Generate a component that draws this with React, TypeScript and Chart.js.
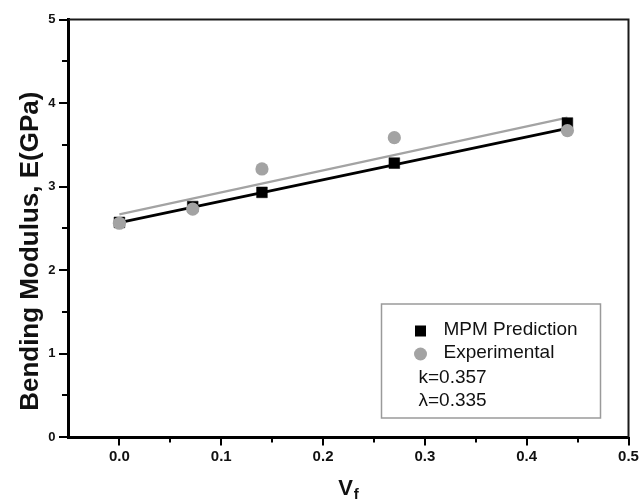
import React, { useEffect, useRef } from "react";
import { Chart, registerables } from "chart.js";

Chart.register(...registerables);

// ---- data ----
const volumeFractions = [0, 0.072, 0.14, 0.27, 0.44];
const mpmPrediction = [2.57, 2.76, 2.93, 3.28, 3.76];
const experimental = [2.56, 2.73, 3.21, 3.585, 3.67];
const mpmFitX = [0, 0.44];
const mpmFitY = [2.566, 3.697];
const expFitX = [0, 0.44];
const expFitY = [2.667, 3.824];
const xTickLabels = ["0.0", "0.1", "0.2", "0.3", "0.4", "0.5"];
const yTickLabels = ["0", "1", "2", "3", "4", "5"];
const seriesLabels = ["MPM Prediction", "Experimental"];
const annotations = ["k=0.357", "λ=0.335"];
const yAxisTitle = "Bending Modulus, E(GPa)";
const xAxisTitleMain = "V";
const xAxisTitleSub = "f";

const BLACK = "#000000";
const GREY = "#a3a3a3";
const FONT = "'Liberation Sans', Arial, Helvetica, sans-serif";

const near = (v: number, step: number) => Math.abs(v / step - Math.round(v / step)) < 1e-6;

const decorPlugin = {
  id: "decor",
  afterDraw(chart: any) {
    const { ctx, chartArea: a, scales } = chart;
    const xs = scales.x;
    const ys = scales.y;
    ctx.save();

    // top & right frame
    ctx.strokeStyle = "#1a1a1a";
    ctx.lineWidth = 2;
    ctx.beginPath();
    ctx.moveTo(a.left, a.top);
    ctx.lineTo(a.right, a.top);
    ctx.lineTo(a.right, a.bottom + 1);
    ctx.stroke();

    // tick marks
    ctx.strokeStyle = BLACK;
    ctx.lineWidth = 2;
    ctx.beginPath();
    xs.ticks.forEach((t: any) => {
      if (t.value <= xs.min + 1e-9) return;
      const px = Math.round(xs.getPixelForValue(t.value));
      const major = near(t.value, 0.1);
      ctx.moveTo(px, a.bottom);
      ctx.lineTo(px, a.bottom + (major ? 8.5 : 5.5));
    });
    ys.ticks.forEach((t: any) => {
      const py = Math.round(ys.getPixelForValue(t.value));
      const major = near(t.value, 1);
      ctx.moveTo(a.left, py);
      ctx.lineTo(a.left - (major ? 9.5 : 6.5), py);
    });
    ctx.stroke();

    // legend box
    const ds = chart.data.datasets;
    const bw = 219;
    const bh = 114;
    const bx = a.right - 28 - bw;
    const by = a.bottom - 19 - bh;
    ctx.fillStyle = "#ffffff";
    ctx.fillRect(bx, by, bw, bh);
    ctx.strokeStyle = "#9a9a9a";
    ctx.lineWidth = 1.5;
    ctx.strokeRect(bx, by, bw, bh);

    ctx.font = `19px ${FONT}`;
    ctx.textAlign = "left";
    ctx.textBaseline = "alphabetic";
    const rowBase = [31, 54, 79, 102];
    seriesLabels.forEach((label, i) => {
      const d = ds[i];
      const cx = bx + 39;
      const cy = by + rowBase[i] - 4;
      ctx.fillStyle = d.backgroundColor;
      if (d.pointStyle === "rect") {
        ctx.fillRect(cx - 5.5, cy - 5.5, 11, 11);
      } else {
        ctx.beginPath();
        ctx.arc(cx, cy, 6.5, 0, Math.PI * 2);
        ctx.fill();
      }
      ctx.fillStyle = "#111111";
      ctx.fillText(label, bx + 62, by + rowBase[i]);
    });
    annotations.forEach((txt, j) => {
      ctx.fillStyle = "#111111";
      ctx.fillText(txt, bx + 37, by + rowBase[seriesLabels.length + j]);
    });

    // y axis title
    ctx.save();
    ctx.translate(a.left - 31, (a.top + a.bottom) / 2 + 23);
    ctx.rotate(-Math.PI / 2);
    ctx.font = `bold 26px ${FONT}`;
    ctx.fillStyle = "#111111";
    ctx.textAlign = "center";
    ctx.textBaseline = "alphabetic";
    ctx.fillText(yAxisTitle, 0, 0);
    ctx.restore();

    // x axis title with subscript
    ctx.fillStyle = "#111111";
    ctx.textAlign = "left";
    ctx.textBaseline = "alphabetic";
    const mainFont = `bold 22px ${FONT}`;
    const subFont = `bold 15px ${FONT}`;
    ctx.font = mainFont;
    const wMain = ctx.measureText(xAxisTitleMain).width;
    ctx.font = subFont;
    const wSub = ctx.measureText(xAxisTitleSub).width;
    const total = wMain + 1 + wSub;
    const startX = (a.left + a.right) / 2 - total / 2;
    ctx.font = mainFont;
    ctx.fillText(xAxisTitleMain, startX, a.bottom + 58);
    ctx.font = subFont;
    ctx.fillText(xAxisTitleSub, startX + wMain + 1, a.bottom + 62);

    ctx.restore();
  },
};

export default function App() {
  const canvasRef = useRef<HTMLCanvasElement | null>(null);

  useEffect(() => {
    document.body.style.margin = "0";
    const canvas = canvasRef.current;
    if (!canvas) return;

    const chart = new Chart(canvas, {
      type: "scatter",
      data: {
        datasets: [
          {
            label: seriesLabels[0],
            data: volumeFractions.map((x, i) => ({ x, y: mpmPrediction[i] })),
            pointStyle: "rect",
            pointRadius: 7.6,
            backgroundColor: BLACK,
            borderColor: BLACK,
            borderWidth: 0.5,
            order: 1,
          },
          {
            label: seriesLabels[1],
            data: volumeFractions.map((x, i) => ({ x, y: experimental[i] })),
            pointStyle: "circle",
            pointRadius: 6.6,
            backgroundColor: GREY,
            borderColor: GREY,
            borderWidth: 0,
            order: 0,
          },
          {
            label: "MPM fit",
            data: mpmFitX.map((x, i) => ({ x, y: mpmFitY[i] })),
            showLine: true,
            pointRadius: 0,
            borderColor: BLACK,
            borderWidth: 2.8,
            order: 3,
          },
          {
            label: "Experimental fit",
            data: expFitX.map((x, i) => ({ x, y: expFitY[i] })),
            showLine: true,
            pointRadius: 0,
            borderColor: GREY,
            borderWidth: 2.2,
            order: 2,
          },
        ],
      } as any,
      options: {
        responsive: false,
        animation: false,
        layout: { padding: { top: 19.5, right: 12.5, left: 0, bottom: 0 } },
        plugins: {
          legend: { display: false },
          tooltip: { enabled: false },
          title: { display: false },
        },
        scales: {
          x: {
            type: "linear",
            min: -0.05,
            max: 0.5,
            grid: { display: false, drawTicks: false },
            border: { display: true, color: BLACK, width: 3 },
            ticks: {
              stepSize: 0.05,
              autoSkip: false,
              maxRotation: 0,
              padding: 11,
              color: "#111111",
              font: { family: FONT, size: 15, weight: "bold" },
              callback: (v: any) => {
                const n = Number(v);
                if (n < -1e-9 || !near(n, 0.1)) return "";
                return xTickLabels[Math.round(n * 10)] ?? "";
              },
            },
            afterFit: (s: any) => {
              s.height = 67;
              s.paddingLeft = 0;
              s.paddingRight = 0;
            },
          },
          y: {
            type: "linear",
            min: 0,
            max: 5,
            grid: { display: false, drawTicks: false },
            border: { display: true, color: BLACK, width: 3 },
            ticks: {
              stepSize: 0.5,
              autoSkip: false,
              padding: 13,
              color: "#111111",
              font: { family: FONT, size: 13, weight: "bold" },
              callback: (v: any) => {
                const n = Number(v);
                if (!near(n, 1)) return "";
                return yTickLabels[Math.round(n)] ?? "";
              },
            },
            afterFit: (s: any) => {
              s.width = 68.5;
              s.paddingTop = 0;
              s.paddingBottom = 0;
            },
          },
        },
      } as any,
      plugins: [decorPlugin],
    });

    return () => chart.destroy();
  }, []);

  return (
    <div style={{ width: 641, height: 504, background: "#ffffff" }}>
      <canvas ref={canvasRef} width={641} height={504} style={{ display: "block" }} />
    </div>
  );
}
